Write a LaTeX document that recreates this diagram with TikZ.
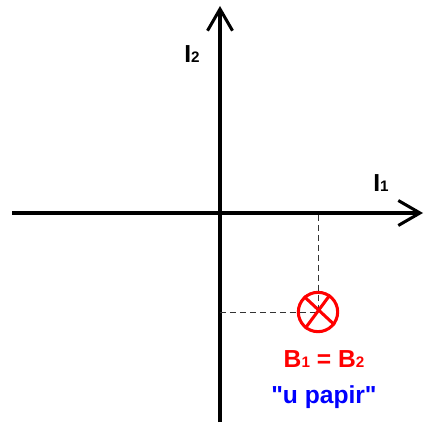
\documentclass[tikz,border=0pt]{standalone}
\usepackage{fontspec}
\setmainfont{Liberation Sans}[Ligatures=TeXOff]
\usetikzlibrary{arrows.meta}

\begin{document}
\begin{tikzpicture}[x=0.03cm, y=-0.03cm, >={Straight Barb[length=6.5mm,width=7.5mm]}, line width=2.6pt]
    \useasboundingbox (0, 0) rectangle (424, 422);
    \tikzset{
        lbl/.style={font=\bfseries\fontsize{21}{24}\selectfont, anchor=base, inner sep=0pt},
        guide/.style={line width=0.8pt, black!80, dash pattern=on 5pt off 3.5pt}
    }
    \def\sb#1{{\fontsize{13}{14}\selectfont #1}}
    
    % Axes
    \coordinate (O) at (220, 213);
    \coordinate (xL) at (12, 213);
    \coordinate (xR) at (423, 213);
    \coordinate (yB) at (220, 422);
    \coordinate (yT) at (220, 6);
    \draw[->] (xL) -- (xR);
    \draw[->] (yB) -- (yT);
    
    % Axis labels
    \node[lbl] (I2) at (192, 63) {I\sb{2}};
    \node[lbl] (I1) at (381, 191) {I\sb{1}};
    
    % Field into the paper
    \node[circle, draw=red, line width=2.6pt, minimum size=1.18cm, inner sep=0pt] (B) at (318, 312) {};
    \coordinate (Bx) at (318, 215);
    \coordinate (By) at (220, 312);
    \draw[guide] (Bx) -- (B.center);
    \draw[guide] (By) -- (B.center);
    \draw[red, line width=2.6pt] (B.132) -- (B.-38);
    \draw[red, line width=2.6pt] (B.55) -- (B.232);
    
    % Labels
    \node[lbl, text=red] (Beq) at (324, 367) {B\sb{1} = B\sb{2}};
    \node[lbl, text=blue] (pap) at (324, 403) {"u papir"};
\end{tikzpicture}
\end{document}
